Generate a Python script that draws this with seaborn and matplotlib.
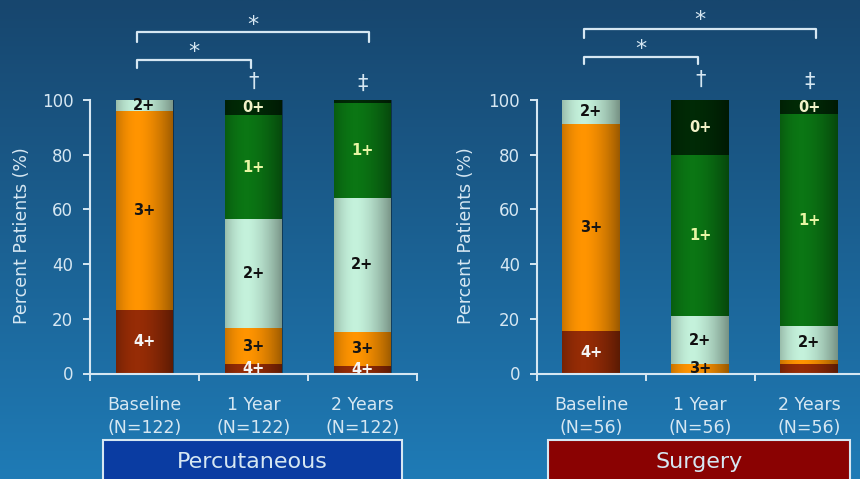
import numpy as np
import pandas as pd
import matplotlib
matplotlib.use("Agg")
import matplotlib.pyplot as plt
from matplotlib.colors import to_rgb
from matplotlib.patches import Rectangle
import seaborn as sns

# ---- data -------------------------------------------------------------
visits = ["Baseline", "1 Year", "2 Years"]
grades = ["4+", "3+", "2+", "1+", "0+"]

# percent of patients in each grade, per visit (rows follow `visits`)
percutaneous_4 = [23.3, 3.5, 2.9]
percutaneous_3 = [72.8, 13.1, 12.2]
percutaneous_2 = [3.9, 39.9, 49.2]
percutaneous_1 = [0.0, 38.0, 34.5]
percutaneous_0 = [0.0, 5.5, 1.2]

surgery_4 = [15.5, 0.0, 3.3]
surgery_3 = [75.8, 3.3, 1.8]
surgery_2 = [8.7, 17.7, 12.2]
surgery_1 = [0.0, 59.0, 77.5]
surgery_0 = [0.0, 20.0, 5.2]

percutaneous_n = [122, 122, 122]
surgery_n = [56, 56, 56]

groups = ["Percutaneous", "Surgery"]

# ---- style ------------------------------------------------------------
sns.set_style("ticks")
plt.rcParams["font.family"] = ["DejaVu Sans"]

fg = "#d6e7f2"
grade_colors = {"4+": "#962c06", "3+": "#ff9400", "2+": "#c4f1db",
                "1+": "#0b7614", "0+": "#002a06"}
grade_text = {"4+": "#f4f4f4", "3+": "#161616", "2+": "#101010",
              "1+": "#e8f6a4", "0+": "#f2f2c8"}
box_colors = {"Percutaneous": "#0a3ca2", "Surgery": "#8a0202"}

min_label = 2.5
unlabeled = {("Surgery", "2 Years", "4+")}


def long_table(name, cols, ns):
    rows = []
    for g, vals in zip(grades, cols):
        for v, val, n in zip(visits, vals, ns):
            rows.append({"group": name, "visit": v, "grade": g,
                         "pct": val, "n": n})
    return pd.DataFrame(rows)


df = pd.concat([
    long_table("Percutaneous",
               [percutaneous_4, percutaneous_3, percutaneous_2,
                percutaneous_1, percutaneous_0], percutaneous_n),
    long_table("Surgery",
               [surgery_4, surgery_3, surgery_2, surgery_1, surgery_0],
               surgery_n),
], ignore_index=True)
df["grade"] = pd.Categorical(df["grade"], grades, ordered=True)
df["visit"] = pd.Categorical(df["visit"], visits, ordered=True)
df = df.sort_values(["group", "visit", "grade"])
df["top"] = df.groupby(["group", "visit"], observed=True)["pct"].cumsum()
df["mid"] = df["top"] - df["pct"] / 2

# ---- figure -----------------------------------------------------------
W, H = 860, 479
fig = plt.figure(figsize=(W / 100, H / 100), dpi=100)

# vertical blue gradient background
bg = fig.add_axes([0, 0, 1, 1], zorder=-10)
top_c, bot_c = np.array(to_rgb("#17466e")), np.array(to_rgb("#1f7bb6"))
t = np.linspace(0, 1, 256)[:, None]
grad = top_c[None, :] * (1 - t) + bot_c[None, :] * t
bg.imshow(grad[:, None, :].repeat(2, axis=1), aspect="auto",
          extent=[0, 1, 0, 1])
bg.axis("off")

# horizontal shading that gives the bars a rounded look
u = np.linspace(0, 1, 200)
dark = np.where(u < 0.38, 0.22 * ((0.38 - u) / 0.38) ** 2,
                0.40 * ((u - 0.38) / 0.62) ** 1.6)
shade = np.zeros((1, u.size, 4))
shade[..., 3] = dark

bar_w = 0.53
panel_left = {"Percutaneous": 90, "Surgery": 536.7}
ax_w, ax_b, ax_h = 327, 479 - 373.5, 273.5

# significance marks (y in data units above the 100 % line)
brackets = {
    "Percutaneous": dict(big=124.9, big_leg=121.2, big_star=127.6,
                         small=114.6, small_leg=111.7, small_star=117.4,
                         dag=106.6),
    "Surgery": dict(big=126.0, big_leg=122.8, big_star=129.2,
                    small=115.9, small_leg=113.0, small_star=118.6,
                    dag=107.4),
}

for grp in groups:
    ax = fig.add_axes([panel_left[grp] / W, ax_b / H, ax_w / W, ax_h / H])
    ax.set_facecolor("none")
    sub = df[df["group"] == grp]

    # stacked bars: draw cumulative tops from the uppermost grade down
    for g in grades[::-1]:
        layer = sub[sub["grade"] == g]
        sns.barplot(data=layer, x="visit", y="top", order=visits,
                    color=grade_colors[g], saturation=1, width=bar_w,
                    errorbar=None, linewidth=0, edgecolor="none", ax=ax)

    for i in range(len(visits)):
        ax.imshow(shade, aspect="auto", zorder=1.5,
                  extent=(i - bar_w / 2, i + bar_w / 2, 0, 100))

    for _, r in sub.iterrows():
        if r["pct"] < min_label or (grp, r["visit"], r["grade"]) in unlabeled:
            continue
        i = visits.index(r["visit"])
        ax.text(i, r["mid"], r["grade"], ha="center", va="center",
                fontsize=10.5, fontweight="bold", color=grade_text[r["grade"]],
                zorder=3)

    ax.set_xlim(-0.5, 2.5)
    ax.set_ylim(0, 100)
    ax.set_xlabel("")
    ax.set_ylabel("Percent Patients (%)", fontsize=12.5, color=fg)
    ax.yaxis.set_label_coords(-0.18 if grp == "Percutaneous" else -0.19, 0.505)
    ax.set_yticks([0, 20, 40, 60, 80, 100])
    ax.set_xticks([-0.5, 0.5, 1.5, 2.5], labels=[])
    ax.tick_params(axis="both", colors=fg, length=5, width=1.4,
                   direction="out", labelsize=12, pad=7)
    for s in ["top", "right"]:
        ax.spines[s].set_visible(False)
    for s in ["left", "bottom"]:
        ax.spines[s].set_color(fg)
        ax.spines[s].set_linewidth(1.5)

    xt = ax.get_xaxis_transform()
    ns = sub.drop_duplicates("visit")["n"].tolist()
    for i, (v, n) in enumerate(zip(visits, ns)):
        ax.text(i, -0.117, v, transform=xt, ha="center", va="center",
                fontsize=12.5, color=fg, clip_on=False)
        ax.text(i, -0.201, f"(N={n})", transform=xt, ha="center",
                va="center", fontsize=12.5, color=fg, clip_on=False)

    b = brackets[grp]
    lw = 1.6
    ax.plot([-0.07, -0.07, 2.06, 2.06],
            [b["big_leg"], b["big"], b["big"], b["big_leg"]],
            color=fg, lw=lw, clip_on=False)
    ax.text(0.995, b["big_star"], "*", ha="center", va="center",
            fontsize=16, color=fg, clip_on=False)
    ax.plot([-0.07, -0.07, 0.98, 0.98],
            [b["small_leg"], b["small"], b["small"], b["small_leg"]],
            color=fg, lw=lw, clip_on=False)
    ax.text(0.455, b["small_star"], "*", ha="center", va="center",
            fontsize=16, color=fg, clip_on=False)
    ax.text(1.0, b["dag"], "\u2020", ha="center", va="center",
            fontsize=15, color=fg, clip_on=False)
    ax.text(2.0, b["dag"] - 0.6, "\u2021", ha="center", va="center",
            fontsize=15, color=fg, clip_on=False)

# group name boxes along the bottom edge
box_px = {"Percutaneous": (103, 402), "Surgery": (548, 850)}
for grp in groups:
    x0, x1 = box_px[grp]
    fig.patches.append(Rectangle((x0 / W, -0.05), (x1 - x0) / W,
                                 0.05 + (479 - 440) / H,
                                 transform=fig.transFigure,
                                 facecolor=box_colors[grp], edgecolor=fg,
                                 linewidth=1.5, zorder=5))
    fig.text((x0 + x1) / 2 / W, (479 - 462) / H, grp, ha="center",
             va="center", fontsize=16, color=fg, zorder=6)

fig.savefig("out.png", dpi=100)
